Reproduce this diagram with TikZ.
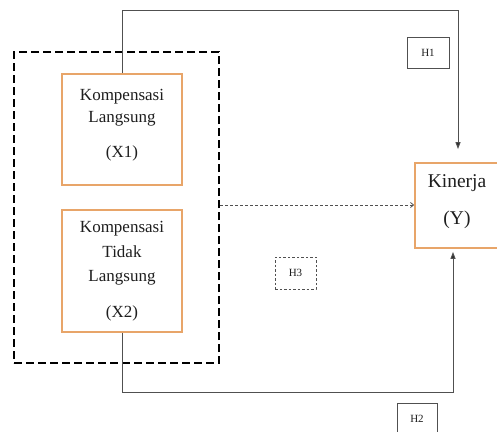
\documentclass[tikz,border=0pt]{standalone}
\usepackage{fontspec}
\setmainfont{Liberation Serif}
\usetikzlibrary{arrows.meta}
\definecolor{boxorange}{RGB}{232,165,105}
\definecolor{linegray}{RGB}{80,80,80}
\definecolor{textgray}{RGB}{30,30,30}
\tikzset{
  varbox/.style={draw=boxorange, line width=1.8pt, fill=white, inner sep=0pt, align=center, text=textgray, font=\fontsize{17}{22}\selectfont},
  hbox/.style={draw=linegray, line width=0.7pt, inner sep=0pt, text=textgray, font=\fontsize{11}{13}\selectfont},
  conn/.style={draw=linegray, line width=1pt},
  tip/.style={-{Triangle[length=7pt,width=5pt,fill=black!85]}},
  groupbox/.style={draw=black, line width=2.3pt, dash pattern=on 8pt off 4pt}
}
\begin{document}
\begin{tikzpicture}[x=1pt,y=-1pt]
\useasboundingbox (0,0) rectangle (497,431);
% group dashed box
\node[groupbox, minimum width=205pt, minimum height=311pt, inner sep=0pt] (grp) at (116.5,207.5) {};
% variable boxes
\node[varbox, minimum width=120pt, minimum height=111pt] (x1) at (122,129.5) {};
\node[text=textgray, font=\fontsize{17}{22}\selectfont, align=center] (x1t) at (122,108) {Kompensasi\\Langsung};
\node[text=textgray, font=\fontsize{17}{22}\selectfont] (x1v) at (122,153) {(X1)};
\node[varbox, minimum width=120pt, minimum height=122pt] (x2) at (122,271) {};
\node[text=textgray, font=\fontsize{17}{24.5}\selectfont, align=center] (x2t) at (122,253.5) {Kompensasi\\Tidak\\Langsung};
\node[text=textgray, font=\fontsize{17}{22}\selectfont] (x2v) at (122,313) {(X2)};
\node[varbox, minimum width=85pt, minimum height=85pt] (y) at (457.5,205.5) {};
\node[text=textgray, font=\fontsize{19.5}{24}\selectfont] (yt) at (457,183) {Kinerja};
\node[text=textgray, font=\fontsize{19.5}{24}\selectfont] (yv) at (457,220) {(Y)};
% hypothesis labels
\node[hbox, minimum width=42pt, minimum height=31pt] (h1) at (428,52.5) {H1};
\node[hbox, minimum width=40pt, minimum height=32pt] (h2) at (417,419) {H2};
\node[hbox, dash pattern=on 2.5pt off 2pt, minimum width=41pt, minimum height=32pt] (h3) at (295.5,273) {H3};
% connectors
\coordinate (c1) at (122,10);
\coordinate (c2) at (458,10);
\draw[conn, tip, shorten >=13pt] (x1.north) -- (c1) -- (c2) -- (c2 |- y.north);
\coordinate (d1) at (122,392);
\coordinate (d2) at (453,392);
\draw[conn, tip, shorten >=3pt] (x2.south) -- (d1) -- (d2) -- (d2 |- y.south);
\draw[draw=linegray, line width=0.8pt, dash pattern=on 3pt off 2pt, -{Straight Barb[length=3pt,width=5pt]}] (grp.east |- 0,205) -- (y.west |- 0,205);
\end{tikzpicture}
\end{document}
